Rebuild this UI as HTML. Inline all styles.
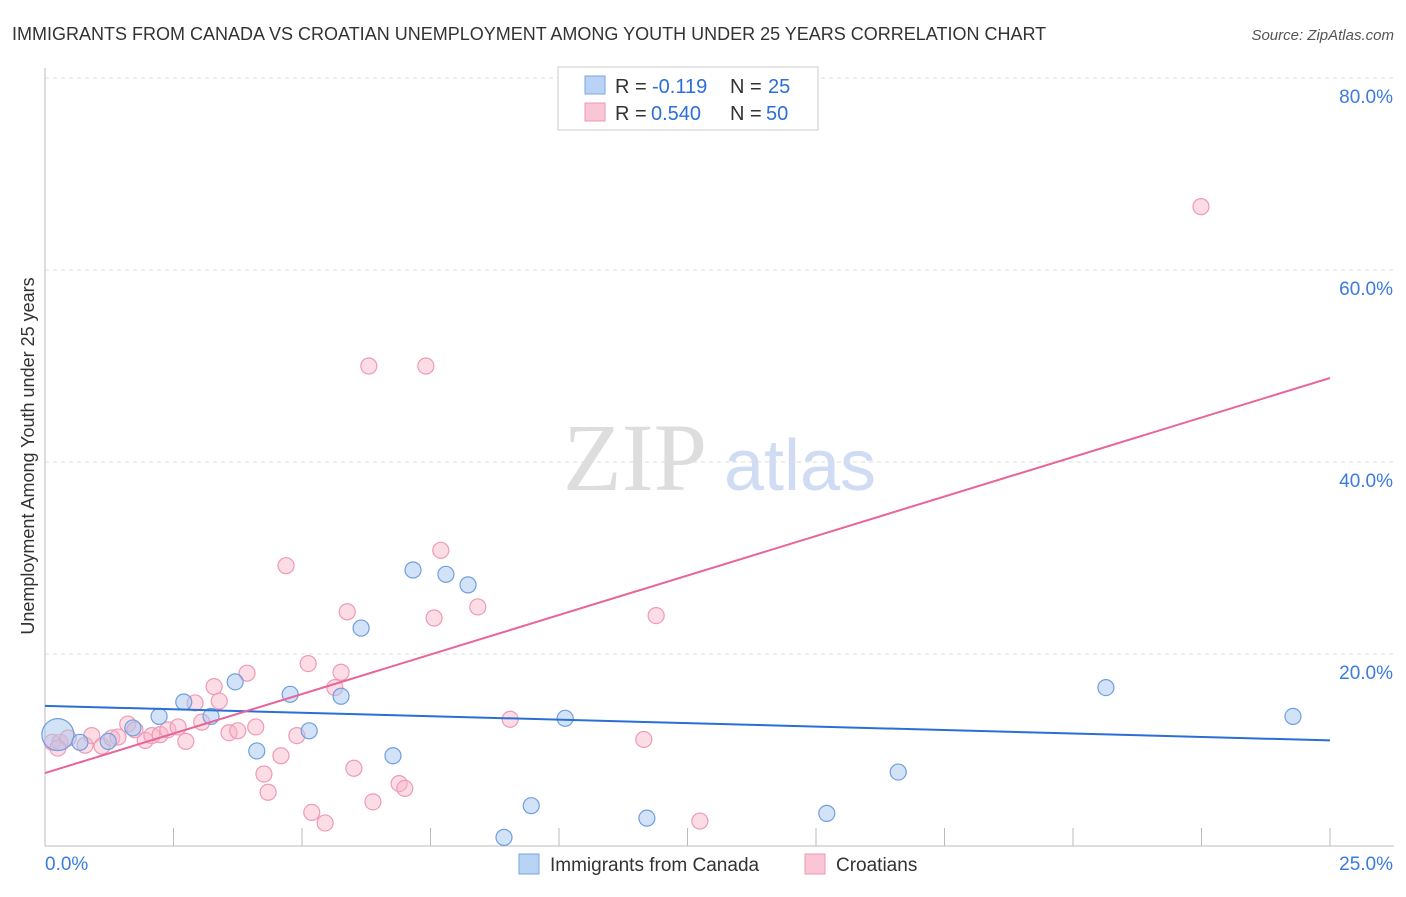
<!DOCTYPE html>
<html><head><meta charset="utf-8"><style>
body{margin:0;background:#fff;font-family:"Liberation Sans",sans-serif}
</style></head><body>
<svg id="chart" width="1406" height="892" xmlns="http://www.w3.org/2000/svg" font-family="Liberation Sans, sans-serif">
<text x="12" y="40" font-size="18" fill="#333">IMMIGRANTS FROM CANADA VS CROATIAN UNEMPLOYMENT AMONG YOUTH UNDER 25 YEARS CORRELATION CHART</text>
<text x="1394" y="40" font-size="15" fill="#555" text-anchor="end" font-style="italic">Source: ZipAtlas.com</text>
<g>
<text x="635" y="490" font-size="96" fill="#ddd" text-anchor="middle" style="font-family:'Liberation Serif',serif">ZIP</text>
<text x="800" y="490" font-size="72" fill="#cfdcf3" text-anchor="middle">atlas</text>
</g>
<g id="grid"></g>
<g id="axes"></g>
<g id="marks"></g>
<g>
<rect x="558" y="67" width="260" height="63" fill="#fff" stroke="#ccc"/>
<rect x="585" y="76" width="20" height="18" fill="#b8d3f6" stroke="#7aa5e3"/>
<rect x="585" y="103" width="20" height="18" fill="#fac6d5" stroke="#ef97b3"/>
<text x="615" y="93" font-size="20" fill="#333">R =</text>
<text x="652" y="93" font-size="20" fill="#2d6fd8">-0.119</text>
<text x="730" y="93" font-size="20" fill="#333">N =</text>
<text x="768" y="93" font-size="20" fill="#2d6fd8">25</text>
<text x="615" y="120" font-size="20" fill="#333">R =</text>
<text x="651" y="120" font-size="20" fill="#2d6fd8">0.540</text>
<text x="730" y="120" font-size="20" fill="#333">N =</text>
<text x="766" y="120" font-size="20" fill="#2d6fd8">50</text>
</g>
<g>
<rect x="519" y="854" width="20" height="20" fill="#b8d3f6" stroke="#7aa5e3"/>
<text x="550" y="871" font-size="19" fill="#333">Immigrants from Canada</text>
<rect x="805" y="854" width="20" height="20" fill="#fac6d5" stroke="#ef97b3"/>
<text x="836" y="871" font-size="19" fill="#333">Croatians</text>
</g>
<text transform="translate(34,456) rotate(-90)" font-size="18" fill="#333" text-anchor="middle">Unemployment Among Youth under 25 years</text>
</svg>
<script>
const yTicks=[20,40,60,80];
const yTickLabels=["20.0%","40.0%","60.0%","80.0%"];
const xTickCount=10;
const blueX=[0.25,0.68,1.23,1.71,2.22,2.70,3.23,3.70,4.12,4.77,5.14,5.76,6.15,6.77,7.16,7.80,8.23,8.93,9.46,10.12,11.71,15.21,16.6,20.64,24.28];
const blueY=[11.6,10.8,10.9,12.3,13.5,15.0,13.5,17.1,9.9,15.8,12.0,15.6,22.7,9.4,28.75,28.3,27.2,0.9,4.2,13.3,2.9,3.4,7.7,16.5,13.5];
const pinkX=[0.14,0.29,0.45,0.78,0.91,1.11,1.30,1.42,1.61,1.75,1.95,2.08,2.24,2.39,2.59,2.74,2.92,3.05,3.29,3.39,3.58,3.75,3.93,4.10,4.26,4.34,4.59,4.69,4.90,5.12,5.19,5.45,5.64,5.76,5.88,6.01,6.30,6.38,6.89,7.00,7.41,7.57,7.70,8.42,9.05,11.65,11.89,12.74,22.49,0.25];
const pinkY=[10.8,10.8,11.25,10.5,11.5,10.4,11.25,11.35,12.7,12.1,11.0,11.5,11.6,12.1,12.4,10.9,14.9,12.9,16.6,15.1,11.8,12.0,18.0,12.4,7.5,5.6,9.4,29.2,11.5,19.0,3.5,2.4,16.5,18.1,24.4,8.1,50,4.6,6.5,6.0,50,23.75,30.8,24.9,13.2,11.1,24.0,2.6,66.6,10.2];
const blueTrend=[14.6,11.0];
const pinkTrend=[7.6,48.75];
const NS="http://www.w3.org/2000/svg";
const X=v=>45+v*(1330-45)/25;
const Y=v=>846-v*9.6;
function mk(t,a,p){const e=document.createElementNS(NS,t);for(const k in a)e.setAttribute(k,a[k]);p.appendChild(e);return e;}
const grid=document.getElementById('grid'),axes=document.getElementById('axes'),marks=document.getElementById('marks');
yTicks.forEach((t,i)=>{
 const l=mk('line',{x1:45,x2:1394,y1:Y(t),y2:Y(t),stroke:'#ddd','stroke-dasharray':'4,4'},grid);
 
 
 const tx=mk('text',{x:1393,y:Y(t)+25,'font-size':19,fill:'#3b7be0','text-anchor':'end'},axes);
 tx.textContent=yTickLabels[i];
 
 
});
const topLine=mk('line',{x1:45,x2:1394,y1:78,y2:78,stroke:'#ddd','stroke-dasharray':'4,4'},grid);


const xa=mk('line',{x1:45,x2:1394,y1:846,y2:846,stroke:'#bbb'},axes);


const ya=mk('line',{x1:45,x2:45,y1:68,y2:846,stroke:'#bbb'},axes);


for(let i=0;i<=xTickCount;i++){
 const v=25*i/xTickCount;
 const t=mk('line',{x1:X(v),x2:X(v),y1:828,y2:846,stroke:'#bbb'},axes);
 
 
}
const xl0=mk('text',{x:45,y:870,'font-size':19,fill:'#3b7be0'},axes);xl0.textContent='0.0%';


const xl1=mk('text',{x:1393,y:870,'font-size':19,fill:'#3b7be0','text-anchor':'end'},axes);xl1.textContent='25.0%';


pinkX.forEach((x,i)=>{
 const c=mk('circle',{cx:X(x),cy:Y(pinkY[i]),r:8,fill:'rgba(248,180,200,0.45)',stroke:'#ef9ab5','stroke-width':1.2},marks);
 
 
});
blueX.forEach((x,i)=>{
 const c=mk('circle',{cx:X(x),cy:Y(blueY[i]),r:i==0?16:8,fill:'rgba(168,200,240,0.5)',stroke:'#6f9fe0','stroke-width':1.2},marks);
 
 
});
const bl=mk('line',{x1:X(0),y1:Y(blueTrend[0]),x2:X(25),y2:Y(blueTrend[1]),stroke:'#2a6fd6','stroke-width':2},marks);


const pl=mk('line',{x1:X(0),y1:Y(pinkTrend[0]),x2:X(25),y2:Y(pinkTrend[1]),stroke:'#e8649a','stroke-width':2},marks);


</script>
</body></html>
